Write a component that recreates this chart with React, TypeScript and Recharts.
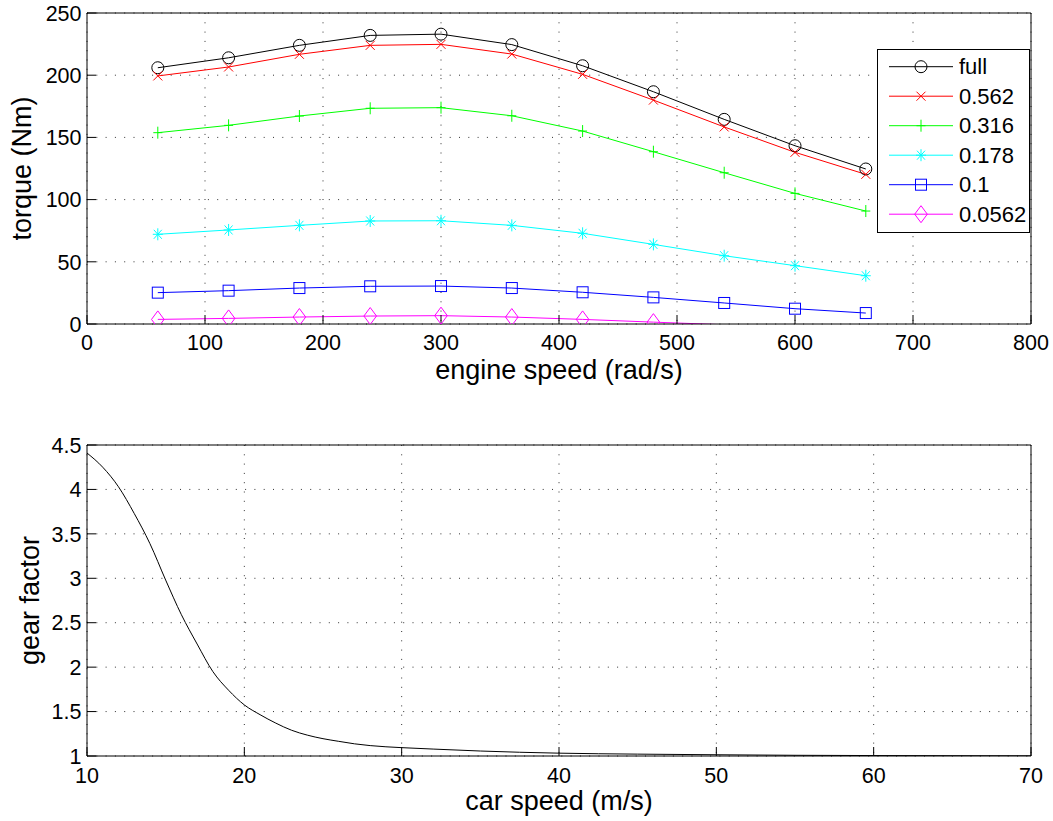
import React from 'react';
import { LineChart, Line, XAxis, YAxis, CartesianGrid, Legend } from 'recharts';

// ---------- data ----------
const engineSpeed = [60, 120, 180, 240, 300, 360, 420, 480, 540, 600, 660];
const torqueFull = [206, 214, 224, 232, 233, 224.6, 207.6, 186.7, 164.5, 143.3, 124.6];
const torque0562 = [199.4, 206.6, 216.8, 224, 224.8, 217, 200.7, 180, 158.4, 138, 120.3];
const torque0316 = [153.8, 159.7, 167.2, 173.4, 173.9, 167.4, 155.1, 138.5, 121.6, 105, 90.8];
const torque0178 = [72.1, 75.6, 79.3, 82.8, 83, 79.3, 72.9, 64, 54.9, 46.9, 38.8];
const torque01 = [25.2, 26.8, 28.9, 30.3, 30.5, 28.9, 25.5, 21.4, 16.9, 12.3, 8.8];
const torque00562 = [3.7, 4.5, 5.6, 6.4, 6.7, 5.6, 3.7, 1.5, -0.6, -3.5, -7];

const throttleLabels = ['full', '0.562', '0.316', '0.178', '0.1', '0.0562'];
const seriesKeys = ['full', 't0562', 't0316', 't0178', 't01', 't00562'];
const seriesValues = [torqueFull, torque0562, torque0316, torque0178, torque01, torque00562];
const seriesColors = ['#000000', '#ff0000', '#00ff00', '#00ffff', '#0000ff', '#ff00ff'];
const markerShapes = ['circle', 'x', 'plus', 'star', 'square', 'diamond'];

const engineTicks = [0, 100, 200, 300, 400, 500, 600, 700, 800];
const torqueTicks = [0, 50, 100, 150, 200, 250];

const carSpeed = [10, 11, 12, 13, 14, 15, 16, 17, 18, 19, 20, 21, 22, 23, 24, 25, 26, 27, 28, 30, 32, 35, 40, 45, 50, 55, 60, 65, 70];
const gearFactor = [4.41, 4.25, 4.03, 3.73, 3.39, 2.98, 2.59, 2.26, 1.95, 1.74, 1.575, 1.465, 1.37, 1.29, 1.235, 1.195, 1.165, 1.137, 1.117, 1.094, 1.078, 1.056, 1.032, 1.021, 1.014, 1.008, 1.005, 1.003, 1.002];
const carTicks = [10, 20, 30, 40, 50, 60, 70];
const gearTicks = [1, 1.5, 2, 2.5, 3, 3.5, 4, 4.5];

const torqueData = engineSpeed.map((s, i) => {
  const row: any = { speed: s };
  seriesKeys.forEach((k, j) => { row[k] = seriesValues[j][i]; });
  return row;
});
const gearData = carSpeed.map((s, i) => ({ speed: s, gear: gearFactor[i] }));

// ---------- styling ----------
const FONT = '"Liberation Sans", Arial, Helvetica, sans-serif';
const GRID = '#333333';

function Marker({ shape, x, y, color }: { shape: string; x: number; y: number; color: string }) {
  const common = { fill: 'none', stroke: color, strokeWidth: 1 };
  switch (shape) {
    case 'circle':
      return <circle cx={x} cy={y} r={6} {...common} />;
    case 'x':
      return <path d={`M${x - 4.5},${y - 4.5}L${x + 4.5},${y + 4.5}M${x - 4.5},${y + 4.5}L${x + 4.5},${y - 4.5}`} {...common} />;
    case 'plus':
      return <path d={`M${x - 4.5},${y}L${x + 4.5},${y}M${x},${y - 6}L${x},${y + 6}`} {...common} />;
    case 'star':
      return <path d={`M${x - 5},${y}L${x + 5},${y}M${x},${y - 6}L${x},${y + 6}M${x - 4},${y - 4.5}L${x + 4},${y + 4.5}M${x - 4},${y + 4.5}L${x + 4},${y - 4.5}`} {...common} />;
    case 'square':
      return <rect x={x - 5.5} y={y - 5.5} width={11} height={11} {...common} />;
    case 'diamond':
      return <path d={`M${x},${y - 8.5}L${x + 6.3},${y}L${x},${y + 8.5}L${x - 6.3},${y}Z`} {...common} />;
    default:
      return null;
  }
}

const makeDot = (shape: string, color: string) => (props: any) => {
  const { cx, cy, value, index } = props;
  if (cx == null || cy == null || value == null || value < 0) return <g key={`d${index}`} />;
  return (
    <g key={`d${index}`}>
      <Marker shape={shape} x={cx} y={cy} color={color} />
    </g>
  );
};

const XTick = (props: any) => (
  <text x={props.x} y={props.y} textAnchor="middle" fontSize={21.5} fill="#000" fontFamily={FONT}>
    {props.payload.value}
  </text>
);
const YTick = (props: any) => (
  <text x={props.x} y={props.y} dy="0.36em" textAnchor="end" fontSize={21.5} fill="#000" fontFamily={FONT}>
    {props.payload.value}
  </text>
);

const LegendBox = () => (
  <svg width={153} height={184} style={{ display: 'block' }}>
    <rect x={0.5} y={0.5} width={152} height={183} fill="#ffffff" stroke="#000" strokeWidth={1} />
    {throttleLabels.map((label, i) => {
      const y = 17.7 + i * 29.5;
      return (
        <g key={label}>
          <line x1={12} x2={76} y1={y} y2={y} stroke={seriesColors[i]} strokeWidth={1} />
          <Marker shape={markerShapes[i]} x={44} y={y} color={seriesColors[i]} />
          <text x={82} y={y} dy="0.35em" fontSize={22} fill="#000" fontFamily={FONT}>{label}</text>
        </g>
      );
    })}
  </svg>
);

const AX = { stroke: '#000', strokeWidth: 1 };

export default function App() {
  return (
    <div style={{ position: 'absolute', left: 0, top: 0, width: 1053, height: 821, background: '#fff', fontFamily: FONT }}>
      <div style={{ position: 'absolute', left: 0, top: 0 }}>
        <LineChart width={1053} height={400} data={torqueData} margin={{ top: 12, right: 21, bottom: 36, left: 27 }}>
          <CartesianGrid stroke={GRID} strokeDasharray="1 8.3" />
          <XAxis dataKey="speed" type="number" domain={[0, 800]} ticks={engineTicks} interval={0} height={40}
            axisLine={AX} tickLine={AX} tickSize={-9} tickMargin={35} tick={<XTick />} />
          <XAxis xAxisId="top" dataKey="speed" type="number" domain={[0, 800]} ticks={engineTicks} interval={0} orientation="top" height={1}
            axisLine={AX} tickLine={AX} tickSize={-9} tick={false} />
          <YAxis type="number" domain={[0, 250]} ticks={torqueTicks} interval={0} width={60} allowDataOverflow
            axisLine={AX} tickLine={AX} tickSize={-9} tickMargin={14.5} tick={<YTick />} />
          <YAxis yAxisId="right" type="number" domain={[0, 250]} ticks={torqueTicks} interval={0} orientation="right" width={1}
            axisLine={AX} tickLine={AX} tickSize={-9} tick={false} />
          {seriesKeys.map((k, i) => (
            <Line key={k} dataKey={k} name={throttleLabels[i]} type="linear" stroke={seriesColors[i]} strokeWidth={1}
              dot={makeDot(markerShapes[i], seriesColors[i])} activeDot={false} isAnimationActive={false} />
          ))}
          <Legend layout="vertical" align="center" verticalAlign="middle"
            wrapperStyle={{ left: 877, top: 49, width: 153, height: 184 }} content={() => <LegendBox />} />
        </LineChart>
        <svg width={1053} height={400} style={{ position: 'absolute', left: 0, top: 0, pointerEvents: 'none' }}>
          <text x={559} y={378.5} textAnchor="middle" fontSize={27} fill="#000" fontFamily={FONT}>engine speed (rad/s)</text>
          <text x={31.3} y={168.5} textAnchor="middle" fontSize={27} fill="#000" fontFamily={FONT} transform="rotate(-90 31.3 168.5)">torque (Nm)</text>
        </svg>
      </div>
      <div style={{ position: 'absolute', left: 0, top: 400 }}>
        <LineChart width={1053} height={421} data={gearData} margin={{ top: 44, right: 21, bottom: 25, left: 27 }}>
          <CartesianGrid stroke={GRID} strokeDasharray="1 8.3" />
          <XAxis dataKey="speed" type="number" domain={[10, 70]} ticks={carTicks} interval={0} height={40}
            axisLine={AX} tickLine={AX} tickSize={-9} tickMargin={36} tick={<XTick />} />
          <XAxis xAxisId="top" dataKey="speed" type="number" domain={[10, 70]} ticks={carTicks} interval={0} orientation="top" height={1}
            axisLine={AX} tickLine={AX} tickSize={-9} tick={false} />
          <YAxis type="number" domain={[1, 4.5]} ticks={gearTicks} interval={0} width={60} allowDataOverflow
            axisLine={AX} tickLine={AX} tickSize={-9} tickMargin={14.5} tick={<YTick />} />
          <YAxis yAxisId="right" type="number" domain={[1, 4.5]} ticks={gearTicks} interval={0} orientation="right" width={1}
            axisLine={AX} tickLine={AX} tickSize={-9} tick={false} />
          <Line dataKey="gear" type="monotone" stroke="#000" strokeWidth={1} dot={false} activeDot={false} isAnimationActive={false} />
        </LineChart>
        <svg width={1053} height={421} style={{ position: 'absolute', left: 0, top: 0, pointerEvents: 'none' }}>
          <text x={559} y={410} textAnchor="middle" fontSize={27} fill="#000" fontFamily={FONT}>car speed (m/s)</text>
          <text x={38.5} y={200.5} textAnchor="middle" fontSize={27} fill="#000" fontFamily={FONT} transform="rotate(-90 38.5 200.5)">gear factor</text>
        </svg>
      </div>
    </div>
  );
}
